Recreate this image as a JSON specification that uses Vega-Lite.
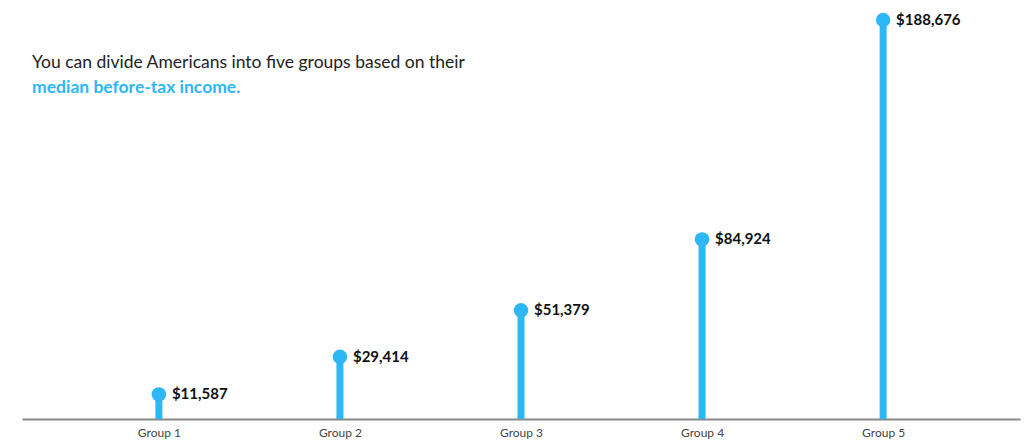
{
  "$schema": "https://vega.github.io/schema/vega-lite/v6.json",
  "autosize": {"type": "none"},
  "width": 998,
  "height": 399,
  "padding": {"left": 22, "top": 20, "right": 4, "bottom": 29},
  "background": "white",
  "config": {
    "view": {"stroke": null},
    "font": "Lato"
  },
  "title": {
    "text": "You can divide Americans into five groups based on their",
    "subtitle": "median before-tax income.",
    "anchor": "start",
    "frame": "group",
    "orient": "top",
    "offset": -84,
    "dx": 10,
    "font": "Lato",
    "fontSize": 17.5,
    "fontWeight": "normal",
    "color": "#222222",
    "subtitleFont": "Lato",
    "subtitleFontSize": 17.5,
    "subtitleFontWeight": "bold",
    "subtitleColor": "#2db7f5",
    "subtitlePadding": 8
  },
  "data": {
    "values": [
      {"group": "Group 1", "income": 11587},
      {"group": "Group 2", "income": 29414},
      {"group": "Group 3", "income": 51379},
      {"group": "Group 4", "income": 84924},
      {"group": "Group 5", "income": 188676}
    ]
  },
  "encoding": {
    "x": {
      "field": "group",
      "type": "ordinal",
      "scale": {"type": "point", "padding": 0.756},
      "axis": {
        "title": null,
        "labelAngle": 0,
        "labelFont": "Lato",
        "labelFontSize": 12,
        "labelColor": "#444444",
        "labelPadding": 8,
        "ticks": false,
        "domainColor": "#888888",
        "domainWidth": 2,
        "grid": false
      }
    },
    "y": {
      "field": "income",
      "type": "quantitative",
      "scale": {"domain": [0, 188676], "nice": false, "zero": true},
      "axis": null
    }
  },
  "layer": [
    {
      "mark": {"type": "rule", "color": "#2db7f5", "strokeWidth": 7},
      "encoding": {"y2": {"datum": 0}}
    },
    {
      "mark": {"type": "circle", "color": "#2db7f5", "opacity": 1, "size": 210}
    },
    {
      "mark": {
        "type": "text",
        "align": "left",
        "baseline": "middle",
        "dx": 13,
        "font": "Lato",
        "fontSize": 15,
        "fontWeight": "bold",
        "color": "#111111"
      },
      "encoding": {
        "text": {"field": "income", "type": "quantitative", "format": "$,d"}
      }
    }
  ]
}
